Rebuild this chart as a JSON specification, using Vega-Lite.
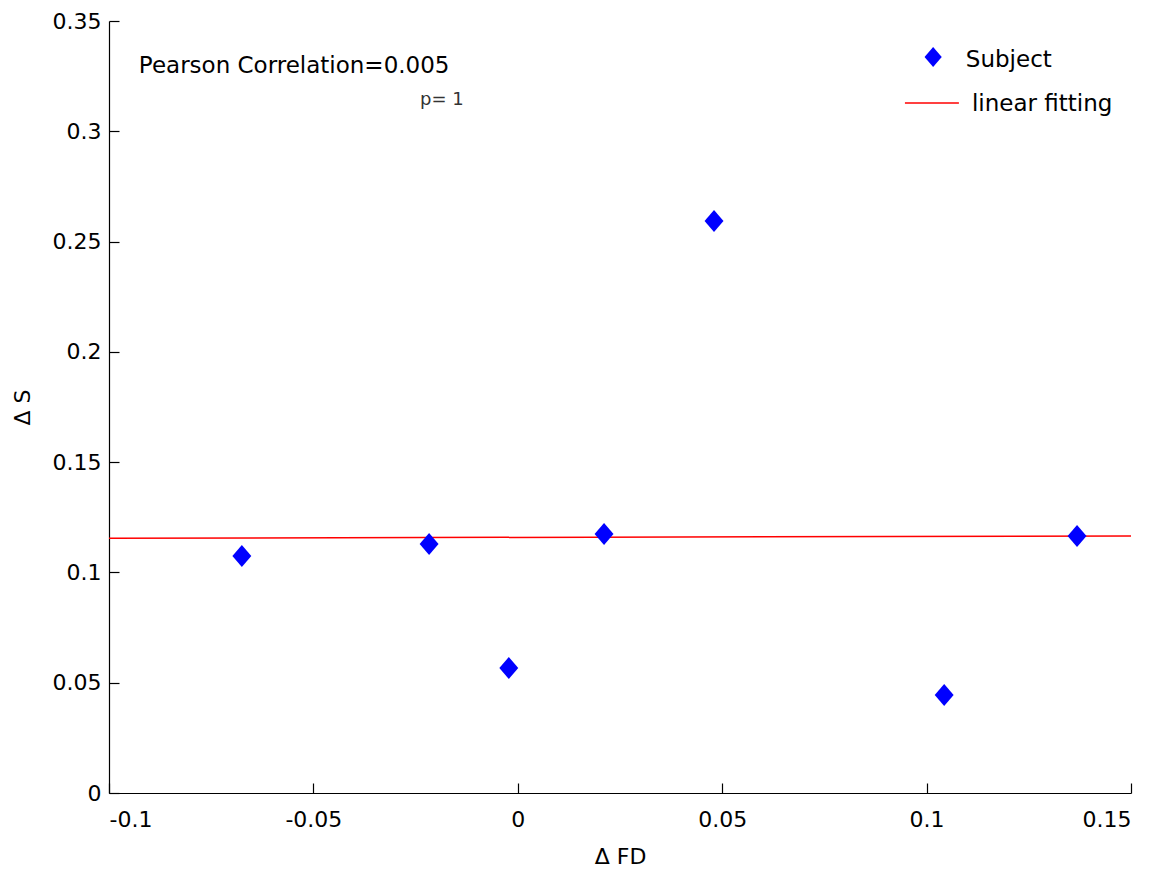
{
  "$schema": "https://vega.github.io/schema/vega-lite/v6.json",
  "width": 1022,
  "height": 772,
  "autosize": {"type": "none"},
  "padding": {"left": 109, "top": 21, "right": 34, "bottom": 80},
  "background": "white",
  "config": {
    "view": {"stroke": null},
    "font": "DejaVu Sans",
    "axis": {
      "grid": false,
      "domainColor": "#000000",
      "domainWidth": 1.2,
      "tickColor": "#000000",
      "tickWidth": 1.2,
      "tickSize": -10,
      "labelColor": "#000000",
      "labelFont": "DejaVu Sans",
      "labelFontSize": 22,
      "titleFont": "DejaVu Sans",
      "titleFontSize": 22,
      "titleFontWeight": "normal",
      "titleColor": "#000000"
    }
  },
  "datasets": {
    "subjects": [
      {"dfd": -0.0675, "ds": 0.1075},
      {"dfd": -0.0217, "ds": 0.1129},
      {"dfd": -0.0022, "ds": 0.0567},
      {"dfd": 0.0211, "ds": 0.1174},
      {"dfd": 0.048, "ds": 0.2593},
      {"dfd": 0.1043, "ds": 0.0444},
      {"dfd": 0.1368, "ds": 0.1165}
    ],
    "fit": [
      {"dfd": -0.1, "ds": 0.1155},
      {"dfd": 0.15, "ds": 0.1165}
    ],
    "legendPoint": [{"x": 0.1016, "y": 0.3337}],
    "legendLine": [{"x": 0.0947, "y": 0.3128}, {"x": 0.1079, "y": 0.3128}],
    "labels": [
      {"x": 0.1096, "y": 0.3322, "text": "Subject"},
      {"x": 0.1111, "y": 0.3124, "text": "linear fitting"},
      {"x": -0.0927, "y": 0.3296, "text": "Pearson Correlation=0.005"}
    ],
    "pLabel": [{"x": -0.0239, "y": 0.3142, "text": "p= 1"}]
  },
  "layer": [
    {
      "data": {"name": "fit"},
      "mark": {"type": "line", "color": "#FF0000", "strokeWidth": 1.5},
      "encoding": {
        "x": {
          "field": "dfd", "type": "quantitative",
          "scale": {"domain": [-0.1, 0.15], "nice": false, "zero": false},
          "axis": {
            "title": "Δ FD",
            "values": [-0.1, -0.05, 0, 0.05, 0.1, 0.15],
            "labelExpr": "'' + round(datum.value*100)/100",
            "labelPadding": 26,
            "titlePadding": 16
          }
        },
        "y": {
          "field": "ds", "type": "quantitative",
          "scale": {"domain": [0, 0.35], "nice": false, "zero": false},
          "axis": {
            "title": "Δ S",
            "values": [0, 0.05, 0.1, 0.15, 0.2, 0.25, 0.3, 0.35],
            "labelExpr": "'' + round(datum.value*100)/100",
            "labelPadding": 18,
            "titlePadding": 18
          }
        }
      }
    },
    {
      "data": {"name": "subjects"},
      "mark": {"type": "point", "filled": true, "color": "#0000FF", "opacity": 1, "shape": "M0,-1L0.86,0L0,1L-0.86,0Z", "size": 484},
      "encoding": {
        "x": {"field": "dfd", "type": "quantitative"},
        "y": {"field": "ds", "type": "quantitative"}
      }
    },
    {
      "data": {"name": "legendPoint"},
      "mark": {"type": "point", "filled": true, "color": "#0000FF", "opacity": 1, "shape": "M0,-1L0.86,0L0,1L-0.86,0Z", "size": 400},
      "encoding": {
        "x": {"field": "x", "type": "quantitative"},
        "y": {"field": "y", "type": "quantitative"}
      }
    },
    {
      "data": {"name": "legendLine"},
      "mark": {"type": "line", "color": "#FF0000", "strokeWidth": 1.5},
      "encoding": {
        "x": {"field": "x", "type": "quantitative"},
        "y": {"field": "y", "type": "quantitative"}
      }
    },
    {
      "data": {"name": "labels"},
      "mark": {"type": "text", "align": "left", "baseline": "middle", "fontSize": 23, "font": "DejaVu Sans", "color": "#000000"},
      "encoding": {
        "x": {"field": "x", "type": "quantitative"},
        "y": {"field": "y", "type": "quantitative"},
        "text": {"field": "text"}
      }
    },
    {
      "data": {"name": "pLabel"},
      "mark": {"type": "text", "align": "left", "baseline": "middle", "fontSize": 18, "font": "DejaVu Sans", "color": "#333333"},
      "encoding": {
        "x": {"field": "x", "type": "quantitative"},
        "y": {"field": "y", "type": "quantitative"},
        "text": {"field": "text"}
      }
    }
  ]
}
